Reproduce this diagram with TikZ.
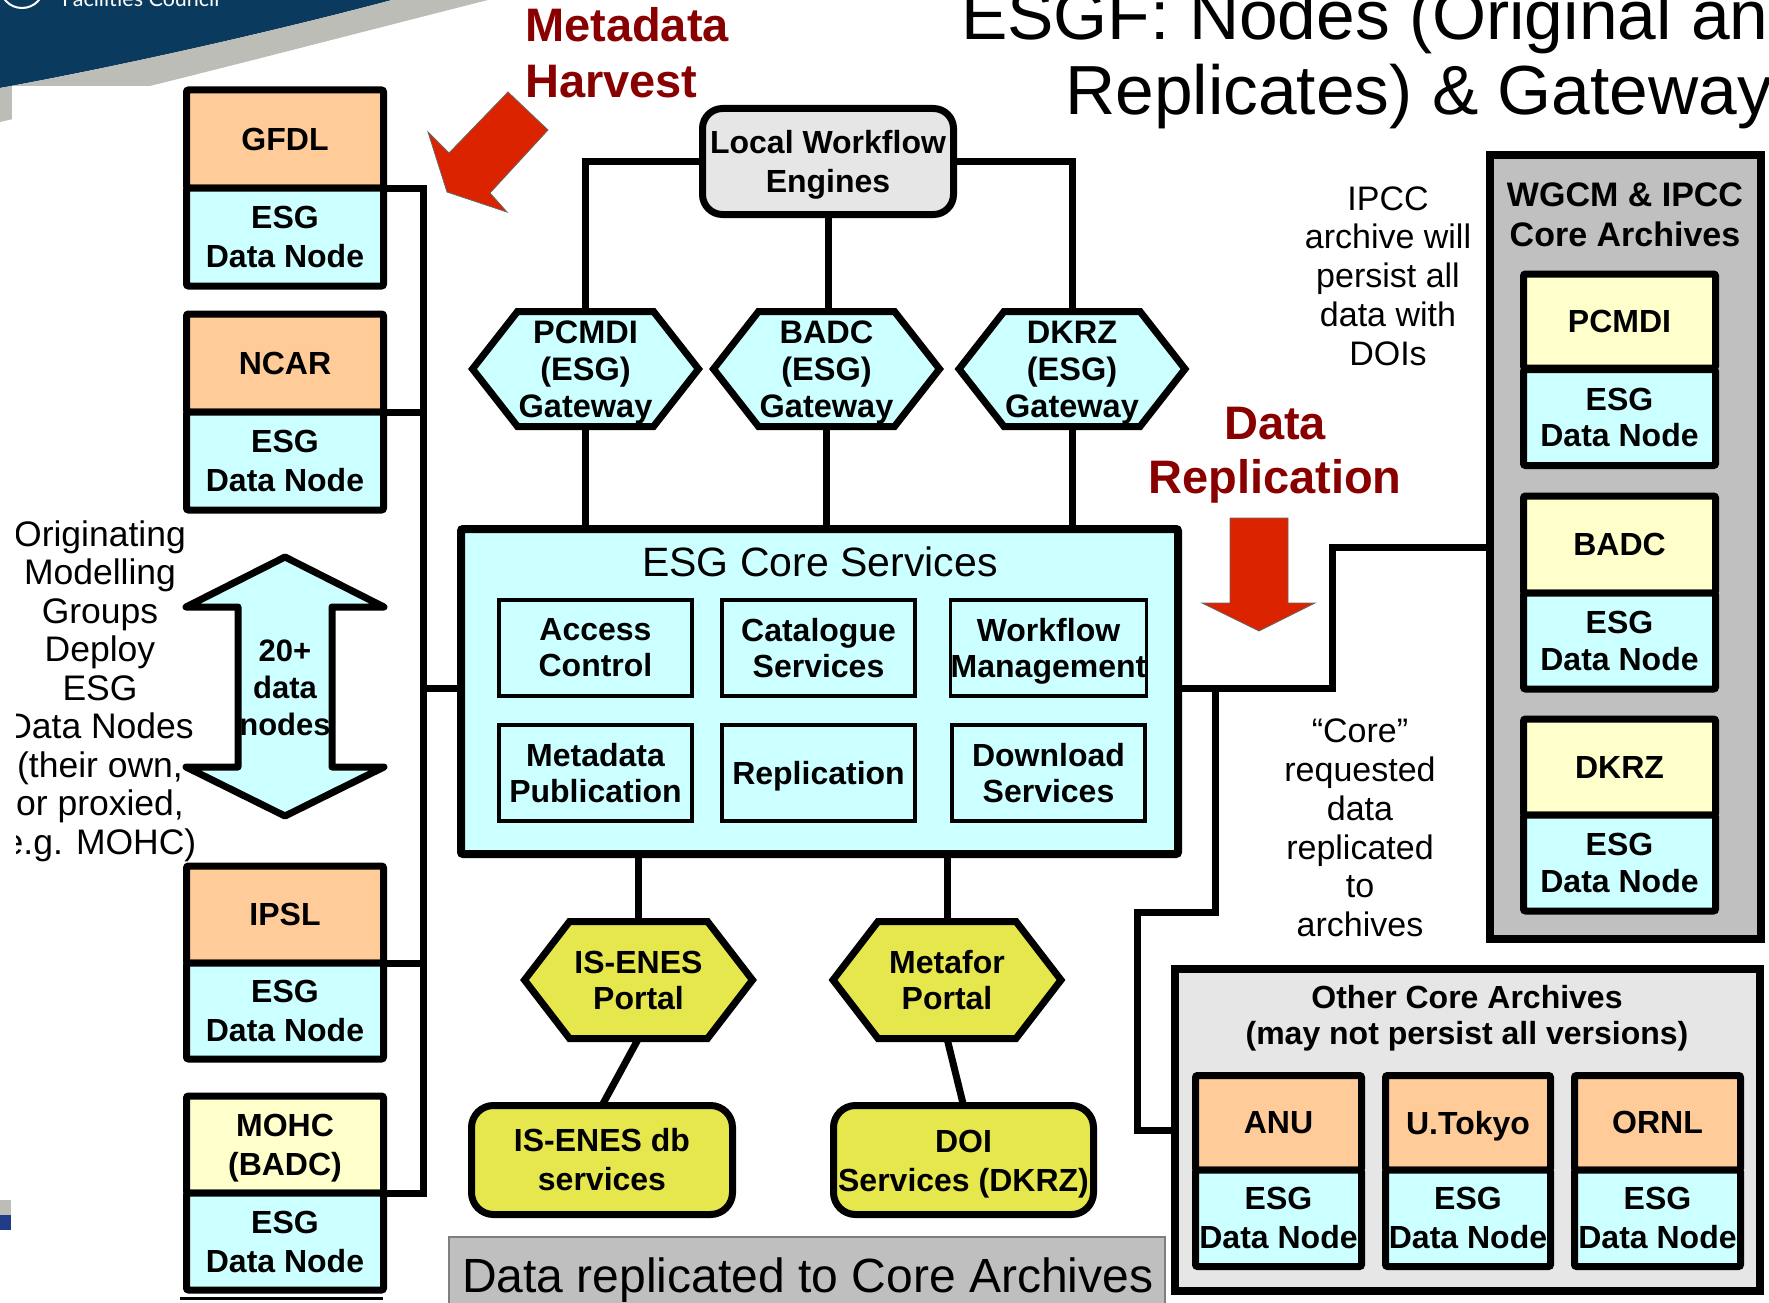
\documentclass[tikz,border=0pt]{standalone}
\usepackage{fontspec}
\setmainfont{Liberation Sans}
\newfontfamily\logofont{Lato}
\usetikzlibrary{calc}

\definecolor{navyband}{HTML}{0B3A5F}
\definecolor{swoosh}{HTML}{BDBDB7}
\definecolor{orgfill}{HTML}{FFCC99}
\definecolor{esgfill}{HTML}{CCFFFF}
\definecolor{archfill}{HTML}{FFFFCC}
\definecolor{portalfill}{HTML}{E6E64D}
\definecolor{enginefill}{HTML}{E6E6E6}
\definecolor{wgcmfill}{HTML}{C0C0C0}
\definecolor{captionfill}{HTML}{BFBFBF}
\definecolor{captionline}{HTML}{7F7F7F}
\definecolor{calloutred}{HTML}{880000}
\definecolor{bigarrow}{HTML}{DC2300}
\definecolor{edgeblue}{HTML}{1F3C88}

\pgfdeclarelayer{bg}
\pgfsetlayers{bg,main}

\newcommand\fsz[2]{\fontsize{#1}{#2}\selectfont}
% balances a descender on the last line so the lines sit centred
\newcommand\topstrut{\rule{0pt}{0.94em}}
% hexagonal outline behind a named node: node, corner inset, fill
\newcommand\hexoutline[3]{%
  \begin{pgfonlayer}{bg}
    \draw[hexline, fill=#3] (#1.west) -- ([xshift=#2]#1.north west) -- ([xshift=-#2]#1.north east)
      -- (#1.east) -- ([xshift=-#2]#1.south east) -- ([xshift=#2]#1.south west) -- cycle;
  \end{pgfonlayer}}

\tikzset{
  lbl/.style={font=\fsz{32}{39}\bfseries, align=center, inner sep=0pt, outer sep=0pt},
  halfbox/.style={lbl, draw, line width=7, rounded corners=2, minimum width=197, minimum height=98},
  orghalf/.style={halfbox, fill=orgfill},
  esghalf/.style={halfbox, fill=esgfill},
  archhalf/.style={halfbox, fill=archfill},
  conn/.style={line width=7},
  svc/.style={lbl, draw, line width=3.5, fill=esgfill, minimum width=193, minimum height=96, font=\fsz{32}{36}\bfseries},
  hexline/.style={line width=7, line join=miter},
  hexnode/.style={lbl, minimum width=226, minimum height=115, font=\fsz{32.5}{37}\bfseries},
  portalnode/.style={lbl, minimum width=228, minimum height=117, font=\fsz{32}{36}\bfseries},
  softbox/.style={lbl, draw, line width=7, rounded corners=20},
  frame/.style={draw, line width=8, inner sep=0pt, outer sep=0pt},
  notetext/.style={font=\fsz{34}{38.8}, align=center, inner sep=0pt},
  redlbl/.style={font=\fsz{47}{56}\bfseries, text=calloutred, inner sep=0pt},
  blockarrow/.style={fill=bigarrow, draw=black!60, line width=0.8, line join=miter},
}

\begin{document}
\begin{tikzpicture}[x=1pt,y=-1pt]
\useasboundingbox (0,0) rectangle (1769,1303);
\clip (0,0) rectangle (1769,1303);

% ---- header band ----
\fill[navyband] (0,0) -- (392,0) .. controls (260,35) and (110,68) .. (0,88) -- cycle;
\fill[swoosh] (392,0) -- (488,0) .. controls (330,40) and (160,85) .. (0,122) -- (0,88)
  .. controls (110,68) and (260,35) .. (392,0) -- cycle;
\fill[white] (12,86) rectangle (520,170);
\draw[white, line width=2] (22,-14) circle (22);
\node[anchor=base west, text=white, font=\logofont\fsz{21.5}{26}, inner sep=0pt] (stfc) at (62,7) {Facilities Council};
\fill[swoosh] (0,1200) rectangle (11,1215);
\fill[edgeblue] (0,1215) rectangle (11,1230);

% ---- title ----
\node[anchor=base west, font=\fsz{69.5}{75}, inner sep=0pt] (title1) at (961,40) {ESGF: Nodes (Original an};
\node[anchor=base west, font=\fsz{69.5}{75}, inner sep=0pt] (title2) at (1065,115) {Replicates) \& Gateway};

% ---- callouts ----
\node[redlbl, anchor=base west] (mh1) at (525,42) {Metadata};
\node[redlbl, anchor=base west] (mh2) at (525,98) {Harvest};
\draw[blockarrow] (508,92) -- (548,130) -- (490,193) -- (507,212) -- (447,192) -- (428,132) -- (449,153) -- cycle;

\node[redlbl, anchor=base] (dr1) at (1275,439) {Data};
\node[redlbl, anchor=base] (dr2) at (1275,493) {Replication};
\draw[blockarrow] (1230,518) -- (1288,518) -- (1288,603) -- (1315,603) -- (1259,631) -- (1202,603) -- (1230,603) -- cycle;

% ---- originating data nodes ----
\node[orghalf] (gfdl) at (285,139) {GFDL};
\node[esghalf] (gfdlD) at (285,237) {ESG\\Data Node};
\node[orghalf] (ncar) at (285,363) {NCAR};
\node[esghalf] (ncarD) at (285,461) {ESG\\Data Node};
\node[orghalf, minimum height=97] (ipsl) at (285,914.5) {IPSL};
\node[esghalf, minimum height=96] (ipslD) at (285,1011) {ESG\\Data Node};
\node[archhalf, minimum height=97] (mohc) at (285,1144.5) {\topstrut MOHC\\(BADC)};
\node[esghalf, minimum height=97] (mohcD) at (285,1241.5) {ESG\\Data Node};
\draw[line width=3] (180,1298) -- (383,1298);

\draw[line width=7, line join=round, fill=esgfill] (285,557) -- (186,607) -- (238,607) -- (238,767)
  -- (186,767) -- (285,816) -- (384,767) -- (332,767) -- (332,607) -- (384,607) -- cycle;
\node[lbl, font=\fsz{31}{37}\bfseries] (twenty) at (285,688) {20+\\data\\nodes};

\begin{scope}
  \clip (16,480) rectangle (300,880);
  \node[notetext, font=\fsz{35.5}{38.5}] (origin) at (100,687)
    {\topstrut Originating\\Modelling\\Groups\\Deploy\\ESG\\Data Nodes\\(their own,\\or proxied,\\e.g. MOHC)};
\end{scope}

% ---- core services ----
\node[frame, fill=esgfill, rounded corners=2, minimum width=717, minimum height=325] (core) at (819.5,691.5) {};
\coordinate (coreL) at ([yshift=3.5]core.west);
\coordinate (coreR) at ([yshift=3.5]core.east);
\node[font=\fsz{41}{49}, inner sep=0pt] (coretitle) at (820,562) {ESG Core Services};
\node[svc] (acc) at (595.5,648) {Access\\Control};
\node[svc] (cat) at (818.5,648) {Catalogue\\Services};
\node[svc] (wfm) at (1048.5,648) {\topstrut Workflow\\Management};
\node[svc] (mdp) at (595.5,773) {Metadata\\Publication};
\node[svc] (rep) at (818.5,773) {\topstrut Replication};
\node[svc] (dls) at (1048.5,773) {Download\\Services};

% ---- gateways and workflow engines ----
\node[softbox, fill=enginefill, minimum width=251, minimum height=106] (lwe) at (828,161.5) {\topstrut Local Workflow\\Engines};
\node[hexnode] (pcmdi) at (585.5,369) {\topstrut PCMDI\\(ESG)\\Gateway};
\node[hexnode] (badc) at (826.5,369) {\topstrut BADC\\(ESG)\\Gateway};
\node[hexnode] (dkrz) at (1072,369) {\topstrut DKRZ\\(ESG)\\Gateway};
\hexoutline{pcmdi}{45}{esgfill}
\hexoutline{badc}{45}{esgfill}
\hexoutline{dkrz}{45}{esgfill}

\draw[conn] (lwe.west) -| (pcmdi.north);
\draw[conn] (lwe.south) -- (lwe.south |- badc.north);
\draw[conn] (lwe.east) -| (dkrz.north);
\draw[conn] (pcmdi.south) -- (pcmdi.south |- core.north);
\draw[conn] (badc.south) -- (badc.south |- core.north);
\draw[conn] (dkrz.south) -- (dkrz.south |- core.north);

% ---- portals ----
\node[portalnode] (isenes) at (638.5,980) {IS-ENES\\Portal};
\node[portalnode] (metafor) at (947,980) {Metafor\\Portal};
\hexoutline{isenes}{45}{portalfill}
\hexoutline{metafor}{45}{portalfill}
\node[softbox, fill=portalfill, rounded corners=22, minimum width=261, minimum height=109] (isdb) at (602,1160) {IS-ENES db\\services};
\node[softbox, fill=portalfill, rounded corners=22, minimum width=260, minimum height=109] (doi) at (963.5,1160) {\topstrut DOI\\Services (DKRZ)};

\draw[conn] (isenes.north |- core.south) -- (isenes.north);
\draw[conn] (metafor.north |- core.south) -- (metafor.north);
\draw[conn] (isenes.south) -- (isdb.north);
\draw[conn] (metafor.south) -- (doi.north);

% ---- data-node bus ----
\coordinate (busend) at (423,1193);
\draw[conn] (gfdl.south east) -| (busend) -- (mohc.south east);
\draw[conn] (ncar.south east) -- (ncar.south east -| busend);
\draw[conn] (ipsl.south east) -- (ipsl.south east -| busend);
\draw[conn] (coreL) -- (coreL -| busend);

% ---- core archives ----
\node[frame, fill=wgcmfill, minimum width=271, minimum height=784] (wgcm) at (1625.5,547) {};
\node[lbl, font=\fsz{34}{40}\bfseries] (wgcmT) at (1625,215) {WGCM \& IPCC\\Core Archives};
\node[archhalf, minimum width=192, minimum height=94] (wpcmdi) at (1619.5,321) {PCMDI};
\node[esghalf, minimum width=192, minimum height=96, font=\fsz{32}{36.5}\bfseries] (wpcmdiD) at (1619.5,417.5) {ESG\\Data Node};
\node[archhalf, minimum width=192, minimum height=97] (wbadc) at (1619.5,544.5) {BADC};
\node[esghalf, minimum width=192, minimum height=96, font=\fsz{32}{36.5}\bfseries] (wbadcD) at (1619.5,641) {ESG\\Data Node};
\node[archhalf, minimum width=192, minimum height=96] (wdkrz) at (1619.5,767) {DKRZ};
\node[esghalf, minimum width=192, minimum height=96, font=\fsz{32}{36.5}\bfseries] (wdkrzD) at (1619.5,863) {ESG\\Data Node};

\node[frame, fill=enginefill, minimum width=585, minimum height=322] (other) at (1467.5,1130) {};
\node[lbl, font=\fsz{32}{36}\bfseries] (otherT) at (1467,1015) {\topstrut Other Core Archives\\(may not persist all versions)};
\node[orghalf, minimum width=166, minimum height=94.5] (anu) at (1278.5,1122.75) {ANU};
\node[esghalf, minimum width=166, minimum height=96.5] (anuD) at (1278.5,1218.25) {ESG\\Data Node};
\node[orghalf, minimum width=165, minimum height=94.5] (utok) at (1468,1122.75) {\topstrut U.Tokyo};
\node[esghalf, minimum width=165, minimum height=96.5] (utokD) at (1468,1218.25) {ESG\\Data Node};
\node[orghalf, minimum width=166, minimum height=94.5] (ornl) at (1657.5,1122.75) {ORNL};
\node[esghalf, minimum width=166, minimum height=96.5] (ornlD) at (1657.5,1218.25) {ESG\\Data Node};

\coordinate (riser) at (1332,546);
\coordinate (bk1) at (1215,912);
\coordinate (bk2) at (1137,912);
\draw[conn] (coreR) -- (coreR -| riser) |- (wgcm.west);
\draw[conn] (coreR -| bk1) -- (bk1) -- (bk2) |- (other.west);

% ---- notes ----
\node[notetext] (ipccnote) at (1388,276) {IPCC\\archive will\\persist all\\data with\\DOIs};
\node[notetext] (corenote) at (1360,828) {“Core”\\requested\\data\\replicated\\to\\archives};

% ---- caption ----
\node[draw=captionline, line width=2, fill=captionfill, anchor=north west, minimum width=716, minimum height=90, inner sep=0pt] (capbox) at (448,1236) {};
\node[anchor=base west, font=\fsz{48}{56}, inner sep=0pt] (captext) at (462,1292) {Data replicated to Core Archives};
\end{tikzpicture}
\end{document}
